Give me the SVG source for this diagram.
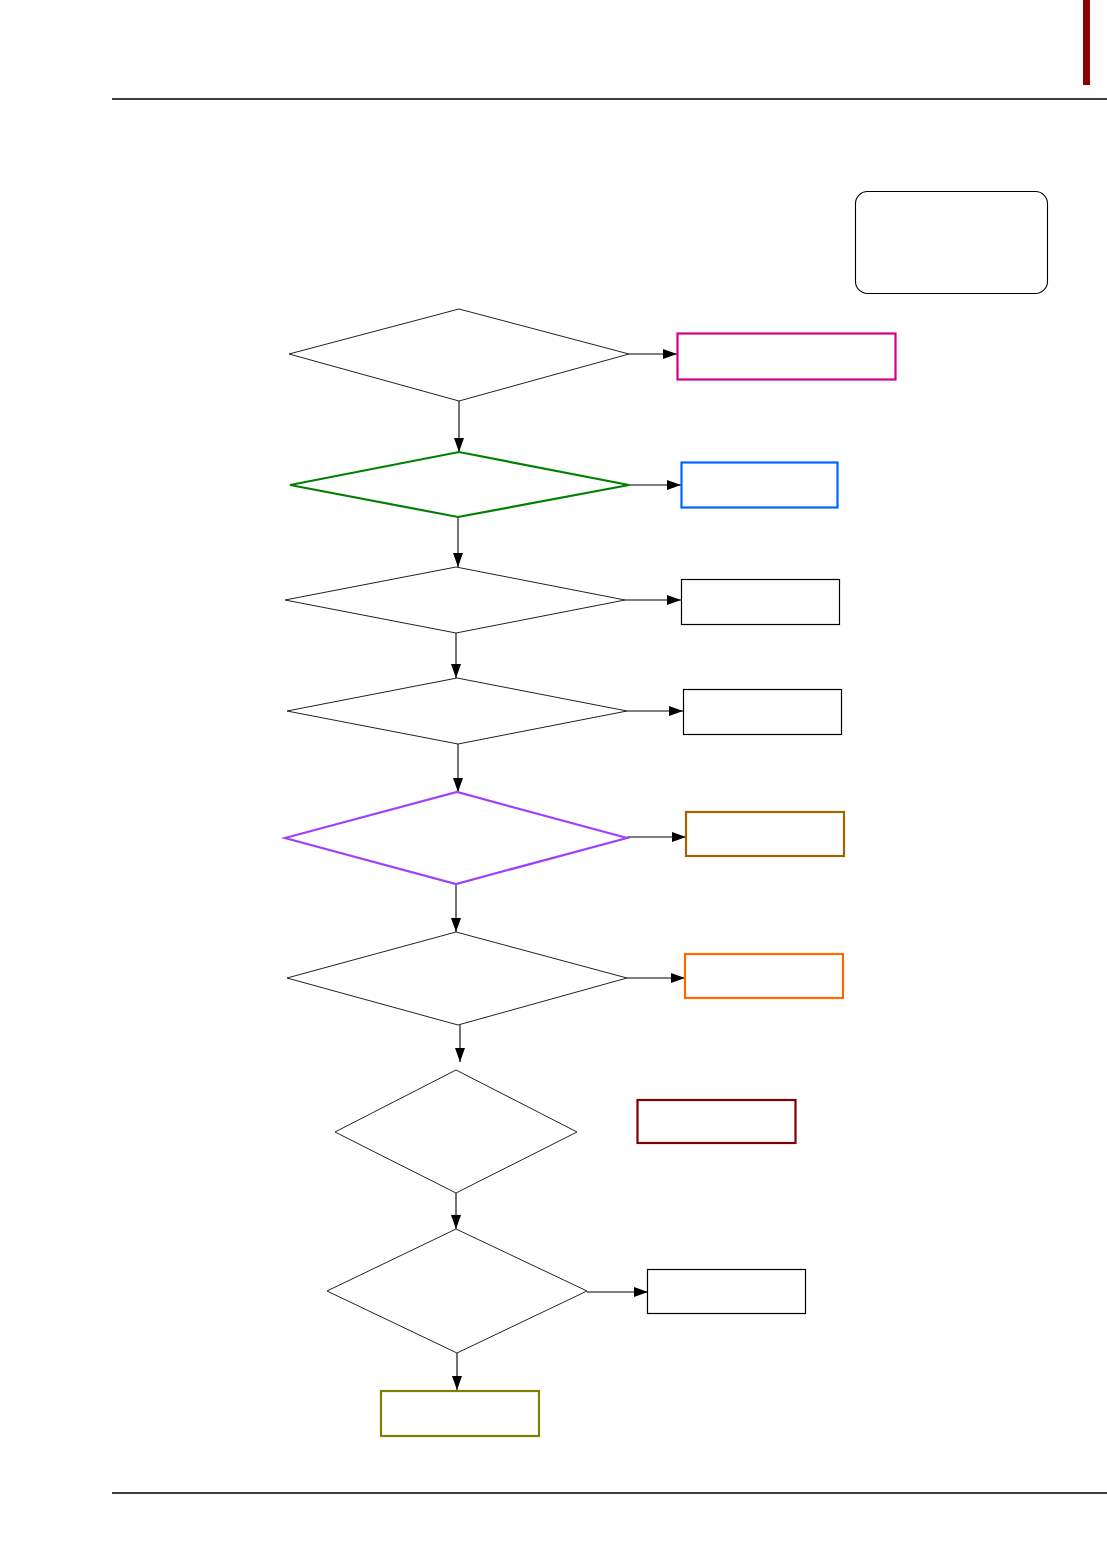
<svg xmlns="http://www.w3.org/2000/svg" width="1107" height="1554" viewBox="0 0 1107 1554">
<style>
.rule{stroke:#000;stroke-width:1.3;fill:none}
.dia{fill:#fff;stroke:#222;stroke-width:1}
.box{fill:#fff;stroke:#000;stroke-width:1.2}
.thick{stroke-width:2.2}
.con{stroke:#000;stroke-width:1.1;fill:none;marker-end:url(#ah)}
.magenta{stroke:#d4008a}
.green{stroke:#008000}
.blue{stroke:#0066ff}
.purple{stroke:#a040ff}
.brown{stroke:#a06400}
.orange{stroke:#ff6600}
.maroon{stroke:#800000}
.olive{stroke:#808000}
</style>
<defs>
<marker id="ah" markerUnits="userSpaceOnUse" markerWidth="14" markerHeight="10" refX="14" refY="5" orient="auto">
<path d="M0,0 L14,5 L0,10 z" fill="#000"/>
</marker>
</defs>
<rect width="1107" height="1554" fill="#fff"/>
<rect x="1083" y="0" width="7" height="85" fill="#8b0000"/>
<line class="rule" x1="112" y1="99" x2="1107" y2="99"/>
<line class="rule" x1="112" y1="1493" x2="1107" y2="1493"/>
<g id="legend"><rect x="855.5" y="191.5" width="192" height="102" rx="12" fill="#fff" stroke="#000" stroke-width="1.1"/></g>
<g id="connectors">
<line class="con" x1="629" y1="354" x2="677" y2="354"/>
<line class="con" x1="459" y1="401" x2="459" y2="452"/>
<line class="con" x1="629" y1="485" x2="681" y2="485"/>
<line class="con" x1="458" y1="517" x2="458" y2="567"/>
<line class="con" x1="625" y1="600" x2="681" y2="600"/>
<line class="con" x1="456" y1="633" x2="456" y2="678"/>
<line class="con" x1="627" y1="711" x2="683" y2="711"/>
<line class="con" x1="458" y1="744" x2="458" y2="792"/>
<line class="con" x1="627" y1="837" x2="686" y2="837"/>
<line class="con" x1="456" y1="884" x2="456" y2="932"/>
<line class="con" x1="627" y1="978" x2="685" y2="978"/>
<line class="con" x1="460" y1="1025" x2="460" y2="1062"/>
<line class="con" x1="456" y1="1193" x2="456" y2="1229"/>
<line class="con" x1="587" y1="1292" x2="648" y2="1292"/>
<line class="con" x1="457" y1="1353" x2="457" y2="1390"/>
</g>
<g id="d1"><polygon class="dia" points="289,354 459,309 629,354 459,401"/></g>
<g id="b1"><rect class="box thick magenta" x="677.5" y="333.5" width="218" height="46"/></g>
<g id="d2"><polygon class="dia thick green" points="290,485 459,452 629,485 458,517"/></g>
<g id="b2"><rect class="box thick blue" x="681.5" y="462.5" width="156" height="45"/></g>
<g id="d3"><polygon class="dia" points="285,600 456,567 625,600 456,633"/></g>
<g id="b3"><rect class="box" x="681.5" y="579.5" width="158" height="45"/></g>
<g id="d4"><polygon class="dia" points="287,711 457,678 627,711 458,744"/></g>
<g id="b4"><rect class="box" x="683.5" y="689.5" width="158" height="45"/></g>
<g id="d5"><polygon class="dia thick purple" points="285,838 457,792 627,838 456,884"/></g>
<g id="b5"><rect class="box thick brown" x="686" y="812" width="158" height="44"/></g>
<g id="d6"><polygon class="dia" points="287,978 456,932 627,978 458,1025"/></g>
<g id="b6"><rect class="box thick orange" x="685" y="954" width="158" height="44"/></g>
<g id="d7"><polygon class="dia" points="335,1132 456,1070 577,1132 456,1193"/></g>
<g id="b7"><rect class="box thick maroon" x="637.5" y="1100" width="158" height="43"/></g>
<g id="d8"><polygon class="dia" points="327,1291 456,1229 587,1291 457,1353"/></g>
<g id="b8"><rect class="box" x="647.5" y="1269.5" width="158" height="44"/></g>
<g id="b9"><rect class="box thick olive" x="381" y="1391" width="158" height="45"/></g>
</svg>
